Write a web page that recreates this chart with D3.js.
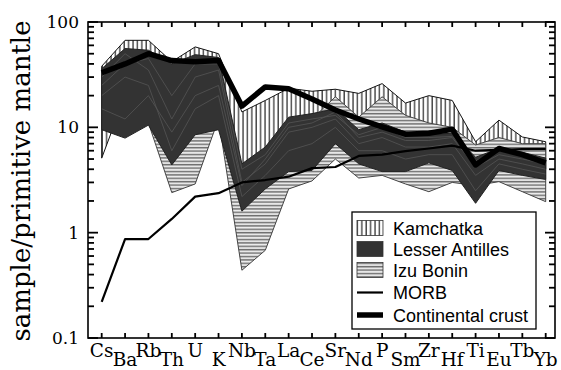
<!DOCTYPE html>
<html>
<head>
<meta charset="utf-8">
<script src="https://cdn.jsdelivr.net/npm/d3@7"></script>
<style>
  body { margin: 0; background: #fff; }
  svg { display: block; }
</style>
</head>
<body>
<script>
// elements on the x axis
var elements = ["Cs","Ba","Rb","Th","U","K","Nb","Ta","La","Ce","Sr","Nd","P","Sm","Zr","Hf","Ti","Eu","Tb","Yb"];

// field envelopes (sample / primitive mantle)
var kamHigh = [38, 67, 67, 42, 58, 50, 14, 18, 23.5, 22, 23, 21, 26, 17, 20, 18, 7.3, 11.7, 8.1, 7.3];
var kamLow  = [5.1, 20, 14, 6, 10, 10, 3, 4, 6, 7, 10, 8, 8, 6, 6, 6, 4, 5, 4.5, 4];

var laHigh = [36, 56, 54, 40, 49, 46, 4.5, 6.5, 12.5, 13.5, 15, 9.5, 11, 9, 8.5, 8.8, 5.2, 6.3, 5.8, 5.1];
var laLow  = [9.5, 7.9, 10.5, 4.4, 8.5, 9.5, 1.6, 2.6, 3.8, 3.9, 7, 4.5, 3.8, 3.8, 4.6, 3.9, 1.9, 3.9, 3.5, 3.2];

var ibHigh = [20, 30, 30, 15, 25, 30, 3, 4, 8, 12, 19.5, 12.5, 19.5, 13, 11, 10, 6.8, 8, 7, 7];
var ibLow  = [12, 12, 11, 2.4, 2.9, 12, 0.44, 0.68, 2.6, 3.1, 5, 3.3, 3.5, 2.9, 2.45, 3.0, 2.8, 3.05, 2.45, 1.97];

// a few single Lesser Antilles patterns seen inside the dark field
var laSamples = [
  [30, 50, 35, 12, 30, 35, 3, 4.5, 9, 10, 12, 7, 8, 6.5, 6.5, 7, 3.5, 5, 4.5, 4],
  [20, 30, 25, 6, 15, 20, 2.2, 3.5, 6, 7, 10, 6, 6, 5, 5.5, 5.5, 2.5, 4.5, 4, 3.6],
  [15, 12, 20, 9, 20, 25, 2.8, 5, 10, 11, 14, 8, 9, 7.5, 7.5, 8, 4.2, 5.5, 5, 4.5],
  [25, 40, 45, 20, 40, 40, 4, 5.5, 11, 12, 13, 8.5, 10, 8, 8, 8.2, 4.8, 6, 5.4, 4.8]
];

// reference lines
var morb  = [0.22, 0.87, 0.87, 1.35, 2.2, 2.37, 3.0, 3.16, 3.4, 4.1, 4.2, 5.35, 5.5, 5.95, 6.3, 6.7, 6.0, 6.1, 6.2, 6.2];
var crust = [33, 40, 50, 43, 42, 43, 15.9, 24.2, 23.2, 18.6, 14.6, 12, 10.1, 8.6, 8.8, 9.6, 4.4, 6.3, 5.5, 4.6];

var yTicks = [0.1, 1, 10, 100];
var legendNames = ["Kamchatka", "Lesser Antilles", "Izu Bonin", "MORB", "Continental crust"];

var serif = "DejaVu Serif";
var sans = "Liberation Sans";

var W = 561, H = 370;
var frame = {left: 88, top: 22, right: 555, bottom: 338};

var svg = d3.select("body").append("svg")
    .attr("width", W)
    .attr("height", H);

var x = d3.scalePoint()
    .domain(elements)
    .range([101.7, 545.7]);

var y = d3.scaleLog()
    .domain([0.1, 100])
    .range([frame.bottom, frame.top]);

// patterns
var defs = svg.append("defs");

var vp = defs.append("pattern")
    .attr("id", "vhatch")
    .attr("patternUnits", "userSpaceOnUse")
    .attr("width", 4.4).attr("height", 10);
vp.append("rect").attr("width", 4.4).attr("height", 10).attr("fill", "#fff");
vp.append("line")
    .attr("x1", 1).attr("x2", 1).attr("y1", 0).attr("y2", 10)
    .attr("stroke", "#111").attr("stroke-width", 1.1);

var hp = defs.append("pattern")
    .attr("id", "hhatch")
    .attr("patternUnits", "userSpaceOnUse")
    .attr("width", 10).attr("height", 3.4);
hp.append("rect").attr("width", 10).attr("height", 3.4).attr("fill", "#eeeeee");
hp.append("line")
    .attr("x1", 0).attr("x2", 10).attr("y1", 1.5).attr("y2", 1.5)
    .attr("stroke", "#707070").attr("stroke-width", 1.5);

function band(high, low) {
  return d3.area()
    .x(function(d, i) { return x(elements[i]); })
    .y0(function(d, i) { return y(low[i]); })
    .y1(function(d, i) { return y(high[i]); })(elements);
}

var line = d3.line()
    .x(function(d, i) { return x(elements[i]); })
    .y(function(d) { return y(d); });

defs.append("clipPath").attr("id", "laclip")
  .append("path").attr("d", band(laHigh, laLow));

var plot = svg.append("g");

// Kamchatka
plot.append("path")
    .attr("d", band(kamHigh, kamLow))
    .attr("fill", "url(#vhatch)")
    .attr("stroke", "#111")
    .attr("stroke-width", 1)
    .attr("stroke-linejoin", "round");

// Izu Bonin
plot.append("path")
    .attr("d", band(ibHigh, ibLow))
    .attr("fill", "url(#hhatch)")
    .attr("stroke", "#444")
    .attr("stroke-width", 1)
    .attr("stroke-linejoin", "round");

// Lesser Antilles
plot.append("path")
    .attr("d", band(laHigh, laLow))
    .attr("fill", "#333")
    .attr("stroke", "#222")
    .attr("stroke-width", 1)
    .attr("stroke-linejoin", "round");

plot.append("g")
    .attr("clip-path", "url(#laclip)")
  .selectAll("path")
    .data(laSamples)
    .enter().append("path")
    .attr("d", line)
    .attr("fill", "none")
    .attr("stroke", "#555")
    .attr("stroke-width", 0.8);

// MORB
plot.append("path")
    .attr("d", line(morb))
    .attr("fill", "none")
    .attr("stroke", "#000")
    .attr("stroke-width", 2.2)
    .attr("stroke-linejoin", "round");

// Continental crust
plot.append("path")
    .attr("d", line(crust))
    .attr("fill", "none")
    .attr("stroke", "#000")
    .attr("stroke-width", 5.5)
    .attr("stroke-linejoin", "round");

// frame
svg.append("rect")
    .attr("x", frame.left).attr("y", frame.top)
    .attr("width", frame.right - frame.left).attr("height", frame.bottom - frame.top)
    .attr("fill", "none")
    .attr("stroke", "#000")
    .attr("stroke-width", 1.6);

// y axis ticks, both sides, pointing inward
var minor = [];
for (var e = -1; e < 2; e++) {
  for (var m = 2; m < 10; m++) minor.push(m * Math.pow(10, e));
}
var ticks = svg.append("g").attr("stroke", "#000").attr("stroke-width", 1.8);
yTicks.forEach(function(v) {
  ticks.append("line").attr("x1", frame.left).attr("x2", frame.left + 10).attr("y1", y(v)).attr("y2", y(v));
  ticks.append("line").attr("x1", frame.right).attr("x2", frame.right - 10).attr("y1", y(v)).attr("y2", y(v));
});
minor.forEach(function(v) {
  ticks.append("line").attr("x1", frame.left).attr("x2", frame.left + 6).attr("y1", y(v)).attr("y2", y(v));
  ticks.append("line").attr("x1", frame.right).attr("x2", frame.right - 6).attr("y1", y(v)).attr("y2", y(v));
});
// x ticks top and bottom
elements.forEach(function(el) {
  ticks.append("line").attr("x1", x(el)).attr("x2", x(el)).attr("y1", frame.top).attr("y2", frame.top + 5);
  ticks.append("line").attr("x1", x(el)).attr("x2", x(el)).attr("y1", frame.bottom).attr("y2", frame.bottom - 5);
});

// y tick labels
svg.append("g").selectAll("text")
    .data(yTicks)
    .enter().append("text")
    .attr("font-family", serif)
    .attr("font-size", 17)
    .attr("x", 79)
    .attr("y", function(d) { return y(d); })
    .attr("dy", "0.35em")
    .attr("text-anchor", "end")
    .text(function(d) { return d; });

// x labels, alternating high / low
svg.append("g").selectAll("text")
    .data(elements)
    .enter().append("text")
    .attr("font-family", serif)
    .attr("font-size", 18.5)
    .attr("x", function(d) { return x(d); })
    .attr("y", function(d, i) { return i % 2 ? 366 : 357; })
    .attr("text-anchor", "middle")
    .text(function(d) { return d; });

// y title
svg.append("text")
    .attr("font-family", serif)
    .attr("font-size", 26)
    .attr("transform", "translate(30,181) rotate(-90)")
    .attr("text-anchor", "middle")
    .text("sample/primitive mantle");

// legend
var lg = svg.append("g");
lg.append("rect")
    .attr("x", 352).attr("y", 212)
    .attr("width", 184).attr("height", 117)
    .attr("fill", "#fff")
    .attr("stroke", "#000")
    .attr("stroke-width", 1.3);

var rowY = [228, 249, 270, 292.5, 315];
var swatchFill = ["url(#vhatch)", "#333", "url(#hhatch)"];
legendNames.forEach(function(name, i) {
  if (i < 3) {
    lg.append("rect")
      .attr("x", 357).attr("y", rowY[i] - 7.5)
      .attr("width", 26).attr("height", 15)
      .attr("fill", swatchFill[i])
      .attr("stroke", "#333").attr("stroke-width", 0.8);
  } else {
    lg.append("line")
      .attr("x1", 357).attr("x2", 383)
      .attr("y1", rowY[i]).attr("y2", rowY[i])
      .attr("stroke", "#000")
      .attr("stroke-width", i == 3 ? 2.2 : 5.5);
  }
  lg.append("text")
    .attr("font-family", sans)
    .attr("font-size", 18)
    .attr("x", 393)
    .attr("y", rowY[i] + 6.5)
    .text(name);
});
</script>
</body>
</html>
